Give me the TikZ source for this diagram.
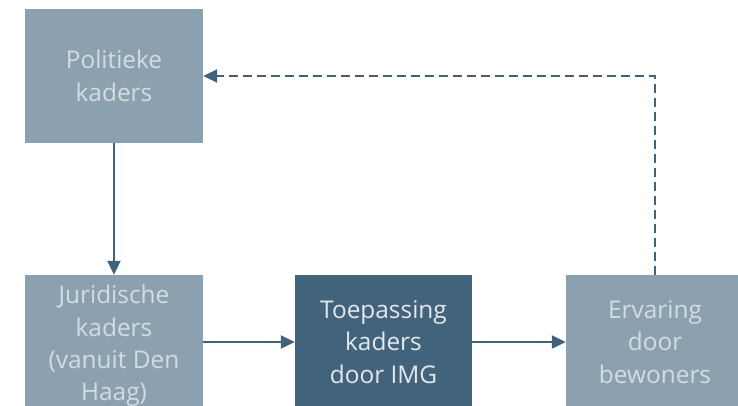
\documentclass[tikz,border=0pt]{standalone}
\usepackage{fontspec}
\setmainfont{Open Sans}
\usetikzlibrary{arrows.meta}
\definecolor{boxlight}{HTML}{8CA1AF}
\definecolor{boxdark}{HTML}{42637C}
\definecolor{txtlight}{HTML}{D3DCE2}
\definecolor{txtdark}{HTML}{E2E8EC}
\definecolor{arr}{HTML}{41627B}
\begin{document}
\begin{tikzpicture}[x=1bp,y=-1bp,
  box/.style={minimum width=178bp, minimum height=134bp, inner sep=0pt, align=center,
    font=\fontsize{24.5}{32.5}\selectfont},
  light/.style={box, fill=boxlight, text=txtlight},
  dark/.style={box, fill=boxdark, text=txtdark},
  conn/.style={draw=arr, line width=2bp, -{Triangle[length=14bp,width=13bp]}},
  dconn/.style={conn, dash pattern=on 9bp off 5bp}]
\useasboundingbox (0,0) rectangle (738,405);
\clip (0,0) rectangle (738,405);
\node[light] (pol) at (114,76) {Politieke\\kaders};
\node[light, minimum height=142bp] (jur) at (114,346) {Juridische\\kaders\\(vanuit Den\\Haag)};
\node[dark, minimum width=177bp] (toe) at (383.5,342) {Toepassing\\kaders\\door IMG};
\node[light] (erv) at (655,342) {Ervaring\\door\\bewoners};
\coordinate (corner) at (655,76);
\draw[conn] (pol) -- (jur);
\draw[conn] (jur.east |- toe.west) -- (toe);
\draw[conn] (toe) -- (erv);
\draw[dconn] (erv.north) -- (corner) -- (pol.east);
\end{tikzpicture}
\end{document}
